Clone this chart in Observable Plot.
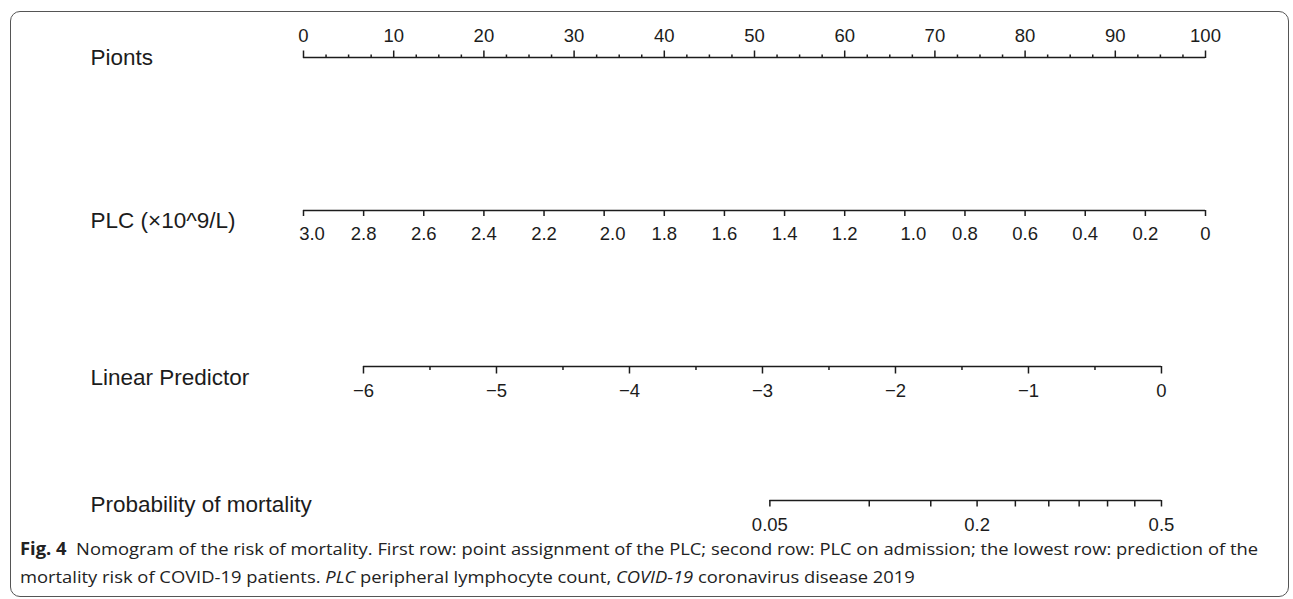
<!DOCTYPE html>
<html>
<head>
<meta charset="utf-8">
<script src="https://cdn.jsdelivr.net/npm/d3@7"></script>
<script src="https://cdn.jsdelivr.net/npm/@observablehq/plot@0.6"></script>
<style>
  html, body { margin: 0; padding: 0; background: #fff; }
  #page { position: relative; width: 1293px; height: 599px; overflow: hidden; background: #fff; }
  #box { position: absolute; left: 10px; top: 11px; width: 1279px; height: 586px; box-sizing: border-box;
         border: 1.5px solid #555; border-radius: 10px; }
  .row { position: absolute; left: 0; }
  #caption { position: absolute; left: 20px; top: 535px; font-family: 'Open Sans', 'Noto Sans', sans-serif;
             font-size: 17px; line-height: 28px; color: #222; white-space: nowrap; }
  #caption div { transform-origin: 0 50%; }
  #caption b { font-weight: 700; }
</style>
</head>
<body>
<div id="page"><div id="box"></div></div>
<script>
// ---------------- data ----------------
const rowLabels = ["Pionts", "PLC (×10^9/L)", "Linear Predictor", "Probability of mortality"];

// Points scale (0–100)
const pointsTicks = [0, 10, 20, 30, 40, 50, 60, 70, 80, 90, 100];
const pointsLabels = ["0", "10", "20", "30", "40", "50", "60", "70", "80", "90", "100"];

// PLC (×10^9/L): value at 0 points and at 100 points
const plcAtPointsEnds = [3.0, 0];
const plcTicks = [3.0, 2.8, 2.6, 2.4, 2.2, 2.0, 1.8, 1.6, 1.4, 1.2, 1.0, 0.8, 0.6, 0.4, 0.2, 0];
const plcLabels = ["3.0", "2.8", "2.6", "2.4", "2.2", "2.0", "1.8", "1.6", "1.4", "1.2", "1.0", "0.8", "0.6", "0.4", "0.2", "0"];
const plcShifted = ["3.0", "2.0", "1.0"]; // labels printed slightly right of their tick

// Linear predictor: value at 0 points and at 100 points
const lpAtPointsEnds = [-6.451, 0.331];
const lpTicks = [-6, -5, -4, -3, -2, -1, 0];
const lpLabels = ["\u22126", "\u22125", "\u22124", "\u22123", "\u22122", "\u22121", "0"];
const lpMinor = [-5.5, -4.5, -3.5, -2.5, -1.5, -0.5];

// Probability of mortality (on the logit of the linear predictor)
const probTicks = [0.05, 0.1, 0.15, 0.2, 0.25, 0.3, 0.35, 0.4, 0.45, 0.5];
const probLabels = ["0.05", "", "", "0.2", "", "", "", "", "", "0.5"];

const captionLine1 = ["Fig. 4", "Nomogram of the risk of mortality. First row: point assignment of the PLC; second row: PLC on admission; the lowest row: prediction of the"];
const captionLine2 = ["mortality risk of COVID-19 patients. ", "PLC", " peripheral lymphocyte count, ", "COVID-19", " coronavirus disease 2019"];

// ---------------- layout ----------------
const W = 1293, ML = 303, MR = 88, LABEL_X = 90;
const FONT = "'Liberation Sans', Arial, Helvetica, sans-serif";
const INK = "#1c1c1c";
const TICK_FS = 18.5, LABEL_FS = 22.5;

const logit = p => Math.log(p / (1 - p));

function row(cfg) {
  const isTop = cfg.anchor === "top";
  const mt = isTop ? 50 : 30, mb = isTop ? 30 : 48, fh = 1;
  const h = mt + fh + mb;
  const lineOff = isTop ? mt : mt + fh;
  const marks = [
    Plot.ruleY([0], {x1: () => cfg.extent[0], x2: () => cfg.extent[1], stroke: INK, strokeWidth: 1.5}),
    Plot.axisX({ticks: cfg.major, anchor: cfg.anchor, tickSize: cfg.majorSize, tickPadding: cfg.pad,
                tickFormat: cfg.format, stroke: INK, strokeWidth: 1.5, fill: INK, fontSize: TICK_FS, label: null})
  ];
  if (cfg.minor) {
    marks.push(Plot.axisX({ticks: cfg.minor, anchor: cfg.anchor, tickSize: cfg.minorSize,
      tickFormat: () => "", stroke: INK, strokeWidth: 1.5, label: null}));
  }
  if (cfg.shifted) {
    marks.push(Plot.axisX({ticks: cfg.shifted.ticks, anchor: cfg.anchor, tickSize: 0,
      tickPadding: cfg.majorSize + cfg.pad, dx: cfg.shifted.dx, tickFormat: cfg.shifted.format,
      fill: INK, fontSize: TICK_FS, label: null}));
  }
  marks.push(Plot.text([cfg.label], {frameAnchor: "left", textAnchor: "start", lineAnchor: "middle",
    dx: LABEL_X - ML, dy: cfg.labelDy, fontSize: LABEL_FS, fill: INK, text: d => d}));

  const svg = Plot.plot({
    width: W, height: h, marginLeft: ML, marginRight: MR, marginTop: mt, marginBottom: mb,
    x: {domain: cfg.domain},
    y: {domain: [0, 1], reverse: isTop, axis: null},
    style: {fontFamily: FONT, color: INK, background: "transparent", overflow: "visible"},
    marks
  });
  const div = document.createElement("div");
  div.className = "row";
  div.style.top = (cfg.lineY - lineOff) + "px";
  div.appendChild(svg);
  document.getElementById("page").appendChild(div);
}

// Points
row({
  anchor: "top", lineY: 57, domain: [0, 100], extent: [pointsTicks[0], pointsTicks[pointsTicks.length - 1]],
  major: pointsTicks, majorSize: 7.5, pad: 8,
  format: d => pointsLabels[pointsTicks.indexOf(d)],
  minor: d3.range(0, 100.01, 2.5).filter(d => d % 10 !== 0), minorSize: 3.5,
  label: rowLabels[0], labelDy: 0
});

// PLC
row({
  anchor: "bottom", lineY: 210, domain: plcAtPointsEnds, extent: [plcTicks[0], plcTicks[plcTicks.length - 1]],
  major: plcTicks, majorSize: 6, pad: 10,
  format: d => { const s = plcLabels[plcTicks.indexOf(d)]; return plcShifted.includes(s) ? "" : s; },
  shifted: {ticks: plcTicks.filter((d, i) => plcShifted.includes(plcLabels[i])), dx: 8.5,
            format: d => plcLabels[plcTicks.indexOf(d)]},
  label: rowLabels[1], labelDy: 11
});

// Linear predictor
row({
  anchor: "bottom", lineY: 366, domain: lpAtPointsEnds, extent: [lpTicks[0], lpTicks[lpTicks.length - 1]],
  major: lpTicks, majorSize: 7.5, pad: 10,
  format: d => lpLabels[lpTicks.indexOf(d)],
  minor: lpMinor, minorSize: 4,
  label: rowLabels[2], labelDy: 12
});

// Probability of mortality
const probLogit = probTicks.map(logit);
row({
  anchor: "bottom", lineY: 500, domain: lpAtPointsEnds, extent: [probLogit[0], probLogit[probLogit.length - 1]],
  major: probLogit, majorSize: 6.5, pad: 11,
  format: d => probLabels[probLogit.indexOf(d)],
  label: rowLabels[3], labelDy: 5
});

// Caption
const cap = document.createElement("div");
cap.id = "caption";
const l1 = document.createElement("div");
l1.innerHTML = "<b>" + captionLine1[0] + "</b>&nbsp;&nbsp;" + captionLine1[1];
const l2 = document.createElement("div");
l2.innerHTML = captionLine2[0] + "<i>" + captionLine2[1] + "</i>" + captionLine2[2] + "<i>" + captionLine2[3] + "</i>" + captionLine2[4];
cap.appendChild(l1); cap.appendChild(l2);
document.getElementById("page").appendChild(cap);
// condense the caption so that line 1 spans the reference width
l1.style.display = "inline-block";
const target = 1238;
const w0 = l1.getBoundingClientRect().width;
l1.style.display = "block";
const sx = target / w0;
l1.style.transform = "scaleX(" + sx + ")";
l2.style.transform = "scaleX(" + sx + ")";
</script>
</body>
</html>
